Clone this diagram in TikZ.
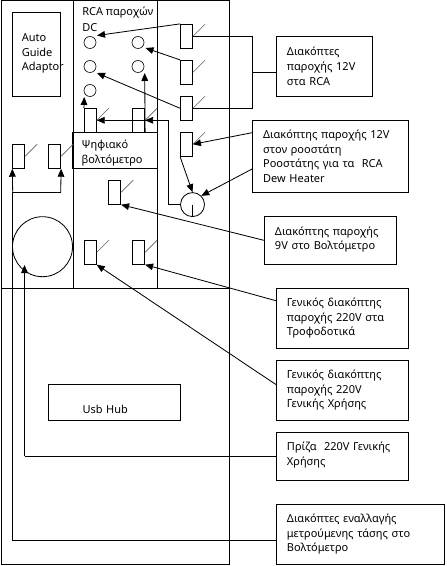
\documentclass[tikz,border=0pt]{standalone}
\usepackage{fontspec}
\setmainfont{Noto Sans}
\usetikzlibrary{arrows.meta}
\definecolor{slashgray}{HTML}{606060}
\tikzset{
  ln/.style={line width=0.62pt,black},
  arr/.style={ln,-{Triangle[length=6pt,width=5pt]}},
  switchbox/.style={draw,ln,fill=white,rectangle,inner sep=0pt,minimum width=9pt,minimum height=18pt},
  slash/.style={line width=0.45pt,slashgray},
  rcajack/.style={draw,line width=0.45pt,circle,inner sep=0pt,minimum size=9pt},
  txt/.style={font=\fontsize{8.25}{11}\selectfont},
  labelbox/.style={draw,ln,rectangle,txt,align=left,inner xsep=8pt,inner ysep=0pt,anchor=center}
}
\newcommand{\switchat}[3]{%
  \node[switchbox] (#1) at (#2,#3) {};
  \draw[slash] (#1.east) -- ++(12,-12);
}
\begin{document}
\begin{tikzpicture}[x=0.75pt,y=-0.75pt]
\useasboundingbox (0,0) rectangle (446,566);
% frame
\coordinate (tl) at (1,0.5);
\coordinate (br) at (229,564.3);
\draw[ln] (tl) rectangle (br);
\draw[ln] (1,288) -- (229,288);
\draw[ln] (73,0.5) -- (73,288);
\draw[ln] (157,0.5) -- (157,288);
% left boxes
\node[labelbox,minimum width=36pt,minimum height=63pt,text width=22pt,inner xsep=7pt] (aga) at (36.5,54.3)
  {Auto\\Guide\\\makebox[0pt][l]{Adaptor}\rule[-3pt]{0pt}{3pt}};
\node[anchor=north west,txt,align=left,inner sep=0pt] (rca) at (82,7) {RCA παροχών\\[0.6pt]DC};
\node[labelbox,minimum width=63pt,minimum height=27pt,text width=50pt,inner xsep=6.75pt] (volt) at (115,150)
  {\rule{0pt}{11pt}Ψηφιακό\\βολτόμετρο};
% RCA jacks
\node[rcajack] (r1) at (90,42.5) {};
\node[rcajack] (r2) at (138,42.5) {};
\node[rcajack] (r3) at (90,66.5) {};
\node[rcajack] (r4) at (138,66.5) {};
\node[rcajack] (r5) at (90,90.5) {};
% switches
\switchat{s1}{186.5}{36.3}
\switchat{s2}{186.5}{72.3}
\switchat{s3}{186.5}{108.3}
\switchat{s4}{186.5}{144.3}
\switchat{s5}{90.3}{120.3}
\switchat{s6}{138.7}{120.3}
\switchat{s7}{114.7}{192.3}
\switchat{s8}{90.3}{252.3}
\switchat{s9}{138.7}{252.3}
\switchat{v1}{18.7}{156.3}
\switchat{v2}{54.7}{156.3}
% circles
\node[draw,ln,circle,inner sep=0pt,minimum size=45pt] (big) at (42.5,246.7) {};
\node[draw,ln,circle,inner sep=0pt,minimum size=18pt] (rheo) at (192.5,204.6) {};
\draw[ln] (rheo.center) -- (rheo.south);
% label boxes
\node[labelbox,minimum width=72pt,minimum height=45pt,text width=56pt] (b1) at (324.3,66.3)
  {Διακόπτες\\παροχής 12V\\στα RCA};
\node[labelbox,minimum width=117pt,minimum height=54pt,text width=101pt] (b2) at (330.5,156.3)
  {Διακόπτης παροχής 12V\\στον ροοστάτη\\Ροοστάτης για τα~ RCA\\Dew Heater};
\node[labelbox,minimum width=99pt,minimum height=36pt,text width=83pt] (b3) at (330.3,240.3)
  {Διακόπτης παροχής\\9V στο Βολτόμετρο\rule[-3pt]{0pt}{3pt}};
\node[labelbox,minimum width=99pt,minimum height=45pt,text width=83pt] (b4) at (342.3,318.3)
  {Γενικός διακόπτης\\παροχής 220V στα\\Τροφοδοτικά};
\node[labelbox,minimum width=99pt,minimum height=45pt,text width=83pt] (b5) at (342.3,390.3)
  {Γενικός διακόπτης\\παροχής 220V\\Γενικής Χρήσης};
\node[labelbox,minimum width=99pt,minimum height=36pt,text width=83pt] (b6) at (342.3,456.3)
  {Πρίζα~ 220V Γενικής\\Χρήσης\rule[-4pt]{0pt}{4pt}};
\node[labelbox,minimum width=126pt,minimum height=45pt,text width=110pt] (b7) at (360.3,534.3)
  {Διακόπτες εναλλαγής\\μετρούμενης τάσης στο\\Βολτόμετρο};
\node[labelbox,minimum width=99pt,minimum height=27pt,text width=48pt,inner xsep=25.5pt] (usb) at (114.5,402.3)
  {\rule{0pt}{17pt}Usb Hub};
% connection points
\coordinate (t1) at (97,35.5);
\coordinate (t2) at (145.5,48);
\coordinate (t3) at (97,73);
\coordinate (j1) at (252.5,36.3);
\coordinate (j2) at (252.5,108.3);
\coordinate (j3) at (252.5,72.3);
\coordinate (w1) at (168.5,120.3);
\coordinate (w2) at (168.5,204.6);
\coordinate (bus1) at (12.7,192.3);
\coordinate (bus2) at (60.7,192.3);
\coordinate (busend) at (12.7,540.5);
\coordinate (plug) at (24.5,456.3);
\coordinate (plugtip) at (24.5,265);
% wires
\draw[ln] (s1.east) -- (j1) -- (j2) -- (s3.east);
\draw[ln] (j3) -- (b1.west |- j3);
\draw[arr] (s1.north west) -- (t1);
\draw[arr] (s2.north west) -- (t2);
\draw[arr] (s3.west) -- (t3);
\draw[arr] (s4.south west) -- (rheo.north);
\draw[arr] (b2.west |- 0,132.7) -- (s4.east);
\draw[arr] (b2.west |- 0,169) -- (rheo.45);
\draw[ln] (rheo.west) -- (w2) -- (w1);
\draw[arr] (w1) -- (s5.east);
\draw[arr] (w1) -- (s6.east);
\draw[arr] (s5.north west) -- (84.3,97);
\draw[arr] (s6.south east) -- (144.7,73);
\draw[arr] (b3.west) -- (s7.south east);
\draw[arr] (b4.west |- 0,300.7) -- (s9.south east);
\draw[arr] (b5.west |- 0,384.5) -- (s8.south east);
\draw[ln] (b6.west) -- (plug);
\draw[arr] (plug) -- (plugtip);
\draw[ln] (b7.west |- busend) -- (busend) -- (bus1) -- (bus2);
\draw[arr] (bus1) -- (v1.south west);
\draw[arr] (bus2) -- (v2.south east);
\end{tikzpicture}
\end{document}
